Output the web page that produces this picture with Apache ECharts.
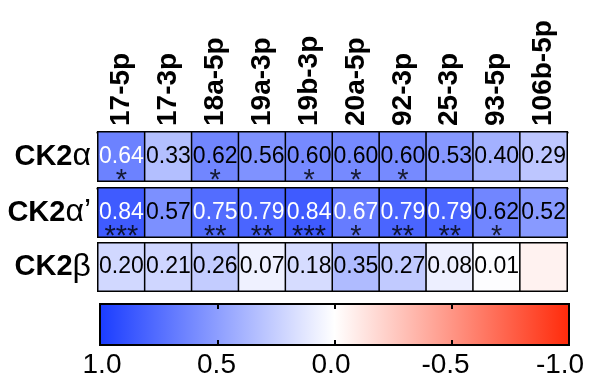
<!DOCTYPE html>
<html><head><meta charset="utf-8">
<script src="https://cdn.jsdelivr.net/npm/echarts@6/dist/echarts.min.js"></script>
<style>html,body{margin:0;padding:0;background:#fff}#c{width:589px;height:376px}</style>
</head><body><div id="c"></div>
<script>
const CATEGORIES = ['17-5p','17-3p','18a-5p','19a-3p','19b-3p','20a-5p','92-3p','25-3p','93-5p','106b-5p'];
const ROWS = ['CK2α','CK2α’','CK2β'];
const CK2A = [0.64,0.33,0.62,0.56,0.60,0.60,0.60,0.53,0.40,0.29];
const CK2A_STARS = ['*','','*','','*','*','*','','',''];
const CK2AP = [0.84,0.57,0.75,0.79,0.84,0.67,0.79,0.79,0.62,0.52];
const CK2AP_STARS = ['***','','**','**','***','*','**','**','*',''];
const CK2B = [0.20,0.21,0.26,0.07,0.18,0.35,0.27,0.08,0.01,-0.06];
const CK2B_STARS = ['','','','','','','','','',''];
const SCALE_TICKS = [1.0,0.5,0.0,-0.5,-1.0];
const COLORS = ['#ff2a0a','#ffffff','#1a3cff']; // -1, 0, +1

const VALUES = [CK2A, CK2AP, CK2B];
const STARS = [CK2A_STARS, CK2AP_STARS, CK2B_STARS];
const FONT = 'Liberation Sans, Arial, sans-serif';
const rowTops = [132, 188, 243];
const rowH = [49, 49, 48];

const grid = [], xAxis = [], yAxis = [], series = [];
for (let r = 0; r < 3; r++) {
  grid.push({left:98, top:rowTops[r], width:469, height:rowH[r], show:true, borderColor:'#000', borderWidth:2, backgroundColor:'transparent'});
  xAxis.push({type:'category', gridIndex:r, data:CATEGORIES, position:'top',
    axisLine:{show:r<2, lineStyle:{color:'#000', width:3}}, axisTick:{show:false}, splitLine:{show:false},
    axisLabel:{show:r===0, rotate:-90, fontSize:28, fontWeight:'bold', color:'#000', margin:6, fontFamily:FONT}});
  yAxis.push({type:'category', gridIndex:r, data:[ROWS[r]], axisLine:{show:false}, axisTick:{show:false}, splitLine:{show:false},
    axisLabel:{margin:7, color:'#000', formatter: v => '{b|' + v.slice(0,3) + '}{g|' + v.slice(3) + '}',
      rich:{b:{fontSize:29, fontWeight:'bold', fontFamily:FONT, color:'#000'}, g:{fontSize:32, fontFamily:FONT, color:'#000'}}}});
  series.push({type:'heatmap', xAxisIndex:r, yAxisIndex:r,
    data: VALUES[r].map((v,i) => ({value:[i,0,v], label:{color: v >= 0.63 ? '#fff' : '#000'}})),
    label:{show:true, fontSize:23, fontFamily:FONT, formatter: p => p.value[2] >= 0 ? p.value[2].toFixed(2) : ''},
    itemStyle:{borderColor:'#000', borderWidth:1.5}, emphasis:{disabled:true}, silent:true});
  series.push({type:'scatter', xAxisIndex:r, yAxisIndex:r, symbolSize:1, itemStyle:{color:'rgba(0,0,0,0)'},
    data: STARS[r].map((s,i) => ({value:[i,0], label:{formatter:s}})),
    label:{show:true, position:'inside', offset:[0,24], fontSize:29, fontFamily:FONT, color:'#000'}, silent:true, z:5});
}
// colour bar
grid.push({left:100, top:304, width:469, height:41, show:true, borderColor:'#000', borderWidth:2,
  backgroundColor:{type:'linear', x:0, y:0, x2:1, y2:0, colorStops:[{offset:0,color:COLORS[2]},{offset:0.5,color:COLORS[1]},{offset:1,color:COLORS[0]}]}});
const tickAxis = pos => ({type:'value', gridIndex:3, min:-1, max:1, interval:0.5, inverse:true, position:pos,
  axisLine:{show:false}, splitLine:{show:false}, axisLabel:{show:false},
  axisTick:{show:true, inside:true, length:5, lineStyle:{color:'#000', width:2}}});
xAxis.push(tickAxis('bottom'));
xAxis.push(tickAxis('top'));
yAxis.push({type:'value', gridIndex:3, show:false});
grid.push({left:102, top:345, width:458, height:1, show:false});
xAxis.push({type:'value', gridIndex:4, min:-1, max:1, interval:0.5, inverse:true,
  axisLine:{show:false}, axisTick:{show:false}, splitLine:{show:false},
  axisLabel:{fontSize:28, margin:6, color:'#000', fontFamily:FONT, customValues:SCALE_TICKS, formatter: v => (+v).toFixed(1)}});
yAxis.push({type:'value', gridIndex:4, show:false});

const chart = echarts.init(document.getElementById('c'));
chart.setOption({
  animation:false,
  grid, xAxis, yAxis, series,
  visualMap:{type:'continuous', min:-1, max:1, show:false, dimension:2, seriesIndex:[0,2,4], inRange:{color:COLORS}}
});
</script></body></html>
